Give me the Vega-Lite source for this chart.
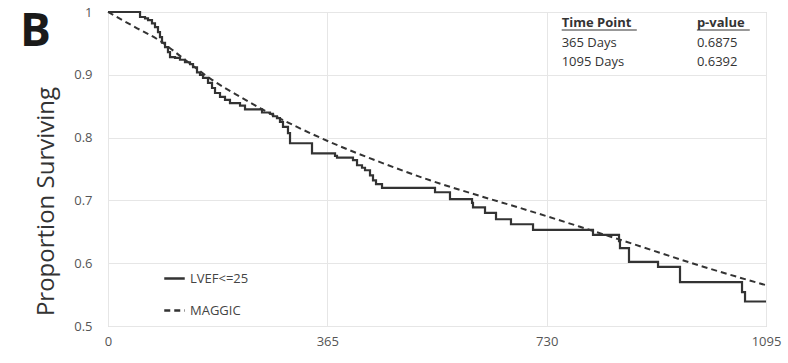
{
  "$schema": "https://vega.github.io/schema/vega-lite/v6.json",
  "width": 658,
  "height": 314,
  "autosize": {"type": "none"},
  "padding": {"left": 108, "top": 12, "right": 22, "bottom": 37},
  "background": "white",
  "title": {"text": "B", "anchor": "start", "frame": "group", "orient": "top", "font": "Open Sans", "fontSize": 46, "fontWeight": "bold", "color": "#1a1a1a", "baseline": "top", "offset": 0, "dx": -88, "dy": 50},
  "config": {
    "view": {"stroke": "#c4c4c4", "strokeWidth": 1},
    "font": "Open Sans"
  },
  "datasets": {
    "curves": [
      {"series": "LVEF<=25", "day": 0, "surv": 1.000},
      {"series": "LVEF<=25", "day": 53.3, "surv": 0.992},
      {"series": "LVEF<=25", "day": 61.6, "surv": 0.990},
      {"series": "LVEF<=25", "day": 66.6, "surv": 0.987},
      {"series": "LVEF<=25", "day": 73.2, "surv": 0.982},
      {"series": "LVEF<=25", "day": 78.2, "surv": 0.976},
      {"series": "LVEF<=25", "day": 83.2, "surv": 0.968},
      {"series": "LVEF<=25", "day": 86.5, "surv": 0.960},
      {"series": "LVEF<=25", "day": 89.9, "surv": 0.951},
      {"series": "LVEF<=25", "day": 94.9, "surv": 0.944},
      {"series": "LVEF<=25", "day": 99.8, "surv": 0.936},
      {"series": "LVEF<=25", "day": 103.2, "surv": 0.928},
      {"series": "LVEF<=25", "day": 111.5, "surv": 0.927},
      {"series": "LVEF<=25", "day": 119.8, "surv": 0.924},
      {"series": "LVEF<=25", "day": 128.1, "surv": 0.920},
      {"series": "LVEF<=25", "day": 136.5, "surv": 0.917},
      {"series": "LVEF<=25", "day": 141.5, "surv": 0.912},
      {"series": "LVEF<=25", "day": 148.1, "surv": 0.904},
      {"series": "LVEF<=25", "day": 153.1, "surv": 0.900},
      {"series": "LVEF<=25", "day": 158.1, "surv": 0.895},
      {"series": "LVEF<=25", "day": 166.4, "surv": 0.887},
      {"series": "LVEF<=25", "day": 173.1, "surv": 0.879},
      {"series": "LVEF<=25", "day": 178.1, "surv": 0.871},
      {"series": "LVEF<=25", "day": 186.4, "surv": 0.865},
      {"series": "LVEF<=25", "day": 194.7, "surv": 0.860},
      {"series": "LVEF<=25", "day": 203.0, "surv": 0.855},
      {"series": "LVEF<=25", "day": 219.7, "surv": 0.851},
      {"series": "LVEF<=25", "day": 228.0, "surv": 0.845},
      {"series": "LVEF<=25", "day": 256.3, "surv": 0.840},
      {"series": "LVEF<=25", "day": 269.6, "surv": 0.838},
      {"series": "LVEF<=25", "day": 274.6, "surv": 0.834},
      {"series": "LVEF<=25", "day": 281.2, "surv": 0.831},
      {"series": "LVEF<=25", "day": 286.2, "surv": 0.825},
      {"series": "LVEF<=25", "day": 291.2, "surv": 0.817},
      {"series": "LVEF<=25", "day": 299.5, "surv": 0.807},
      {"series": "LVEF<=25", "day": 302.9, "surv": 0.791},
      {"series": "LVEF<=25", "day": 339.5, "surv": 0.775},
      {"series": "LVEF<=25", "day": 377.8, "surv": 0.771},
      {"series": "LVEF<=25", "day": 381.1, "surv": 0.768},
      {"series": "LVEF<=25", "day": 407.7, "surv": 0.764},
      {"series": "LVEF<=25", "day": 414.4, "surv": 0.756},
      {"series": "LVEF<=25", "day": 422.7, "surv": 0.752},
      {"series": "LVEF<=25", "day": 427.7, "surv": 0.748},
      {"series": "LVEF<=25", "day": 436.0, "surv": 0.740},
      {"series": "LVEF<=25", "day": 441.0, "surv": 0.732},
      {"series": "LVEF<=25", "day": 446.0, "surv": 0.726},
      {"series": "LVEF<=25", "day": 456.0, "surv": 0.720},
      {"series": "LVEF<=25", "day": 544.2, "surv": 0.713},
      {"series": "LVEF<=25", "day": 569.1, "surv": 0.702},
      {"series": "LVEF<=25", "day": 605.8, "surv": 0.696},
      {"series": "LVEF<=25", "day": 607.4, "surv": 0.689},
      {"series": "LVEF<=25", "day": 627.4, "surv": 0.680},
      {"series": "LVEF<=25", "day": 645.7, "surv": 0.670},
      {"series": "LVEF<=25", "day": 670.6, "surv": 0.662},
      {"series": "LVEF<=25", "day": 707.3, "surv": 0.653},
      {"series": "LVEF<=25", "day": 807.1, "surv": 0.645},
      {"series": "LVEF<=25", "day": 850.4, "surv": 0.635},
      {"series": "LVEF<=25", "day": 852.0, "surv": 0.624},
      {"series": "LVEF<=25", "day": 867.0, "surv": 0.602},
      {"series": "LVEF<=25", "day": 915.3, "surv": 0.594},
      {"series": "LVEF<=25", "day": 951.9, "surv": 0.570},
      {"series": "LVEF<=25", "day": 1055.1, "surv": 0.554},
      {"series": "LVEF<=25", "day": 1060.1, "surv": 0.539},
      {"series": "LVEF<=25", "day": 1095, "surv": 0.539},
      {"series": "MAGGIC", "day": 0, "surv": 1.000},
      {"series": "MAGGIC", "day": 44.9, "surv": 0.976},
      {"series": "MAGGIC", "day": 86.5, "surv": 0.954},
      {"series": "MAGGIC", "day": 128.1, "surv": 0.924},
      {"series": "MAGGIC", "day": 173.1, "surv": 0.892},
      {"series": "MAGGIC", "day": 219.7, "surv": 0.865},
      {"series": "MAGGIC", "day": 253.0, "surv": 0.847},
      {"series": "MAGGIC", "day": 314.5, "surv": 0.817},
      {"series": "MAGGIC", "day": 369.4, "surv": 0.793},
      {"series": "MAGGIC", "day": 452.7, "surv": 0.761},
      {"series": "MAGGIC", "day": 535.9, "surv": 0.732},
      {"series": "MAGGIC", "day": 619.1, "surv": 0.707},
      {"series": "MAGGIC", "day": 685.6, "surv": 0.688},
      {"series": "MAGGIC", "day": 785.5, "surv": 0.658},
      {"series": "MAGGIC", "day": 885.3, "surv": 0.627},
      {"series": "MAGGIC", "day": 985.2, "surv": 0.596},
      {"series": "MAGGIC", "day": 1095, "surv": 0.565}
    ],
    "table": [
      {"role": "header", "text": "Time Point", "day": 755, "surv": 0.9761, "day_end": 880},
      {"role": "header", "text": "p-value", "day": 980, "surv": 0.9761, "day_end": 1068},
      {"role": "body", "text": "365 Days", "day": 755, "surv": 0.9443},
      {"role": "body", "text": "0.6875", "day": 980, "surv": 0.9443},
      {"role": "body", "text": "1095 Days", "day": 755, "surv": 0.9140},
      {"role": "body", "text": "0.6392", "day": 980, "surv": 0.9140}
    ]
  },
  "layer": [
    {
      "data": {"name": "curves"},
      "transform": [{"filter": "datum.series === 'LVEF<=25'"}],
      "mark": {"type": "line", "interpolate": "step-after", "color": "#333333", "strokeWidth": 2.2},
      "encoding": {
        "x": {"field": "day", "type": "quantitative", "scale": {"domain": [0, 1095], "nice": false},
          "axis": {"values": [0, 365, 730, 1095], "format": "d", "title": null, "domain": false, "ticks": false, "labelFontSize": 13, "labelColor": "#555555", "labelPadding": 9, "labelFlush": false, "gridColor": "#e6e6e6", "labelFont": "Open Sans"}},
        "y": {"field": "surv", "type": "quantitative", "scale": {"domain": [0.5, 1], "nice": false, "zero": false},
          "axis": {"values": [0.5, 0.6, 0.7, 0.8, 0.9, 1], "format": "~g", "title": "Proportion Surviving", "titleFont": "Open Sans", "titleFontSize": 24, "titleFontWeight": "normal", "titleColor": "#333333", "titleX": -55, "titleY": 189, "titleAngle": -90, "titleAlign": "center", "titleBaseline": "alphabetic", "domain": false, "ticks": false, "labelFontSize": 13, "labelColor": "#555555", "labelPadding": 16, "gridColor": "#e6e6e6", "labelFont": "Open Sans"}},
        "strokeDash": {"field": "series", "type": "nominal", "scale": {"domain": ["LVEF<=25", "MAGGIC"], "range": [[1, 0], [6, 4]]},
          "legend": {"orient": "none", "legendX": 55, "legendY": 255, "title": null, "symbolType": "stroke", "symbolStrokeColor": "#333333", "symbolStrokeWidth": 2.4, "symbolSize": 420, "labelFontSize": 13, "labelColor": "#444444", "labelFont": "Open Sans", "rowPadding": 13, "labelOffset": 4}}
      }
    },
    {
      "data": {"name": "curves"},
      "transform": [{"filter": "datum.series === 'MAGGIC'"}],
      "mark": {"type": "line", "interpolate": "monotone", "color": "#333333", "strokeWidth": 2},
      "encoding": {
        "x": {"field": "day", "type": "quantitative"},
        "y": {"field": "surv", "type": "quantitative"},
        "strokeDash": {"field": "series", "type": "nominal"}
      }
    },
    {
      "data": {"name": "table"},
      "transform": [{"filter": "datum.role === 'header'"}],
      "mark": {"type": "text", "align": "left", "baseline": "alphabetic", "font": "Open Sans", "fontSize": 13, "fontWeight": "bold", "color": "#333333"},
      "encoding": {
        "x": {"field": "day", "type": "quantitative"},
        "y": {"field": "surv", "type": "quantitative"},
        "text": {"field": "text"}
      }
    },
    {
      "data": {"name": "table"},
      "transform": [{"filter": "datum.role === 'header'"}],
      "mark": {"type": "rule", "color": "#333333", "strokeWidth": 1, "yOffset": 3},
      "encoding": {
        "x": {"field": "day", "type": "quantitative"},
        "x2": {"field": "day_end"},
        "y": {"field": "surv", "type": "quantitative"}
      }
    },
    {
      "data": {"name": "table"},
      "transform": [{"filter": "datum.role === 'body'"}],
      "mark": {"type": "text", "align": "left", "baseline": "alphabetic", "font": "Open Sans", "fontSize": 13, "color": "#333333"},
      "encoding": {
        "x": {"field": "day", "type": "quantitative"},
        "y": {"field": "surv", "type": "quantitative"},
        "text": {"field": "text"}
      }
    }
  ]
}
